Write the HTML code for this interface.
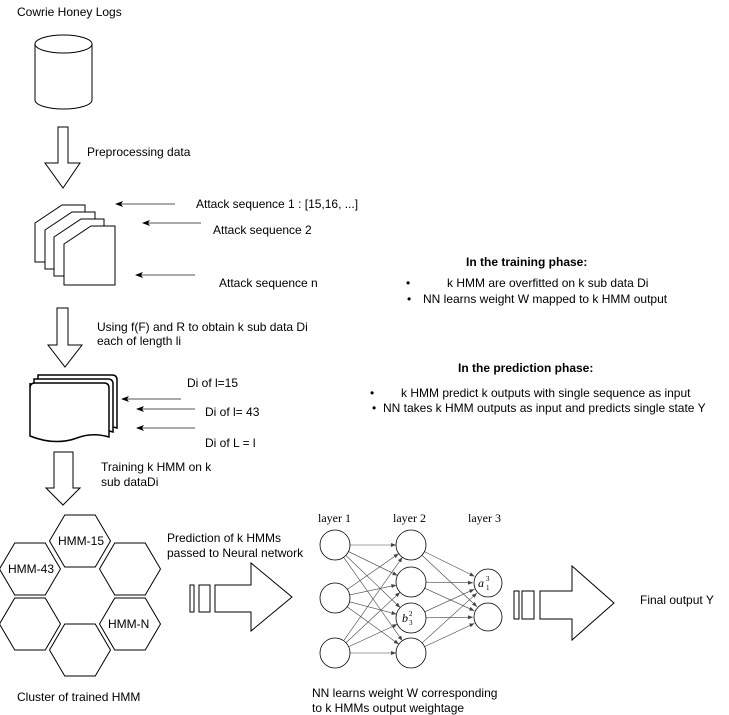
<!DOCTYPE html>
<html><head><meta charset="utf-8"><style>
body{margin:0;background:#fff}
svg{display:block}
text{font-family:"Liberation Sans",sans-serif;font-size:12px;fill:#000}
.s{font-family:"Liberation Serif",serif;font-size:12px}
</style></head><body>
<svg id="g" width="729" height="715" viewBox="0 0 729 715" xmlns="http://www.w3.org/2000/svg">
<defs><marker id="ah" markerWidth="8" markerHeight="6" refX="7" refY="3" orient="auto" markerUnits="userSpaceOnUse"><path d="M0,0 L8,3 L0,6 L2,3z" fill="#000"/></marker>
<marker id="sa" markerWidth="5" markerHeight="4" refX="5" refY="2" orient="auto" markerUnits="userSpaceOnUse"><path d="M0,0 L5,2 L0,4z" fill="#444"/></marker></defs>
<g fill="none" stroke="#000" stroke-width="1">
<path d="M35,44 V100 A28.5,9 0 0 0 92,100 V44" fill="#fff"/>
<ellipse cx="63.5" cy="44" rx="28.5" ry="9" fill="#fff"/>
<path d="M58,127 H68 V163 H80 L63,188 L45,163 H58 Z" fill="#fff"/>
<path d="M57,308 H68 V345 H82 L65,367 L48,345 H57 Z" fill="#fff"/>
<path d="M54,452 H73 V488 H80 L63,505 L46,488 H54 Z" fill="#fff"/>
<path d="M35,223 L62,205 H85 V262 H35 Z" fill="#fff"/>
<path d="M45,230 L72,212 H95 V269 H45 Z" fill="#fff"/>
<path d="M54,237 L81,219 H104 V276 H54 Z" fill="#fff"/>
<path d="M64,244 L91,226 H115 V285 H64 Z" fill="#fff"/>
<path d="M38,375 H112 Q117,375 117,380 V428 Q100,423 85,428 Q65,436 38,428 Z" fill="#fff" stroke-width="1.5"/>
<path d="M34,379 H108 Q113,379 113,384 V432 Q96,427 81,432 Q61,440 34,432 Z" fill="#fff" stroke-width="1.5"/>
<path d="M30,383 Q30,388 30,388 V436 Q55,446 77,438 Q92,432 109,437 V388 Q109,383 104,383 H35 Q30,383 30,388" fill="#fff" stroke-width="1.5"/>
<line x1="175" y1="204" x2="116" y2="204" marker-end="url(#ah)" stroke="#555"/>
<line x1="201" y1="223" x2="143" y2="223" marker-end="url(#ah)" stroke="#555"/>
<line x1="195" y1="275" x2="136" y2="275" marker-end="url(#ah)" stroke="#555"/>
<line x1="181" y1="399" x2="122" y2="399" marker-end="url(#ah)" stroke="#555"/>
<line x1="195" y1="409" x2="137" y2="409" marker-end="url(#ah)" stroke="#555"/>
<line x1="195" y1="428" x2="137" y2="428" marker-end="url(#ah)" stroke="#555"/>
<g id="hx"></g>
<rect x="190" y="585" width="4" height="27" fill="#fff"/>
<rect x="199" y="585" width="11" height="27" fill="#fff"/>
<path d="M215,585 H251 V563 L292,597 L251,631 V612 H215 Z" fill="#fff"/>
<rect x="514" y="591" width="5" height="28" fill="#fff"/>
<rect x="522" y="591" width="12" height="28" fill="#fff"/>
<path d="M540,591 H572 V566 L614,603 L572,640 V619 H540 Z" fill="#fff"/>
<g id="nn" stroke-width="0.6" stroke="#444"></g>
</g>
<text x="17" y="16">Cowrie Honey Logs</text>
<text x="87" y="156">Preprocessing data</text>
<text x="196" y="208">Attack sequence 1 : [15,16, ...]</text>
<text x="213" y="234">Attack sequence 2</text>
<text x="219" y="287">Attack sequence n</text>
<text x="97" y="331">Using f(F) and R to obtain k sub data Di</text>
<text x="97" y="345">each of length li</text>
<text x="187" y="387">Di of l=15</text>
<text x="205" y="416">Di of l= 43</text>
<text x="205" y="447">Di of L = l</text>
<text x="101" y="471">Training k HMM on k</text>
<text x="101" y="486">sub dataDi</text>
<text x="466" y="266" font-weight="bold">In the training phase:</text>
<text x="406" y="287">•</text><text x="447" y="287">k HMM are overfitted on k sub data Di</text>
<text x="407" y="303">•</text><text x="423" y="303">NN learns weight W mapped to k HMM output</text>
<text x="458" y="372" font-weight="bold">In the prediction phase:</text>
<text x="370" y="397">•</text><text x="401" y="397">k HMM predict k outputs with single sequence as input</text>
<text x="372" y="412">•</text><text x="383" y="412">NN takes k HMM outputs as input and predicts single state Y</text>
<text x="58" y="545">HMM-15</text>
<text x="8" y="573">HMM-43</text>
<text x="108" y="628">HMM-N</text>
<text x="167" y="542">Prediction of k HMMs</text>
<text x="167" y="557">passed to Neural network</text>
<text x="640" y="604">Final output Y</text>
<text x="17" y="701">Cluster of trained HMM</text>
<text x="312" y="697">NN learns weight W corresponding</text>
<text x="312" y="712">to k HMMs output weightage</text>
<text class="s" x="318" y="522">layer 1</text>
<text class="s" x="393" y="522">layer 2</text>
<text class="s" x="468" y="522">layer 3</text>
<text class="s" x="402" y="622" font-style="italic">b</text><text class="s" x="409" y="616" style="font-size:7px">2</text><text class="s" x="409" y="625" style="font-size:7px">3</text>
<text class="s" x="478" y="587" font-style="italic">a</text><text class="s" x="486" y="581" style="font-size:7px">3</text><text class="s" x="486" y="590" style="font-size:7px">1</text>
</svg>
<script>
var NS="http://www.w3.org/2000/svg";
function el(p,t,a){var e=document.createElementNS(NS,t);for(var k in a)e.setAttribute(k,a[k]);p.appendChild(e);return e;}
var hx=document.getElementById('hx');
[[80,541],[30,569],[130,569],[30,624],[130,624],[80,650]].forEach(function(c){
 var x=c[0],y=c[1],w=30.5,h=26;
 el(hx,'polygon',{points:[x-w,y,x-w/2,y-h,x+w/2,y-h,x+w,y,x+w/2,y+h,x-w/2,y+h].join(' '),fill:'#fff'});
});
var L=[[335,545],[335,598],[335,653]],M=[[411,545],[411,582],[411,618],[411,653]],O=[[488,583],[488,617]];
var nn=document.getElementById('nn'),r=15;
function con(A,B){A.forEach(function(a){B.forEach(function(b){var dx=b[0]-a[0],dy=b[1]-a[1],d=Math.hypot(dx,dy);
el(nn,'line',{x1:a[0]+dx/d*r,y1:a[1]+dy/d*r,x2:b[0]-dx/d*r,y2:b[1]-dy/d*r,'marker-end':'url(#sa)'});});});}
con(L,M);con(M,O);
L.concat(M).forEach(function(c){el(nn,'circle',{cx:c[0],cy:c[1],r:r,fill:'#fff',stroke:'#000','stroke-width':0.8});});
O.forEach(function(c){el(nn,'circle',{cx:c[0],cy:c[1],r:14,fill:'#fff',stroke:'#000','stroke-width':0.8});});
</script>
</body></html>
